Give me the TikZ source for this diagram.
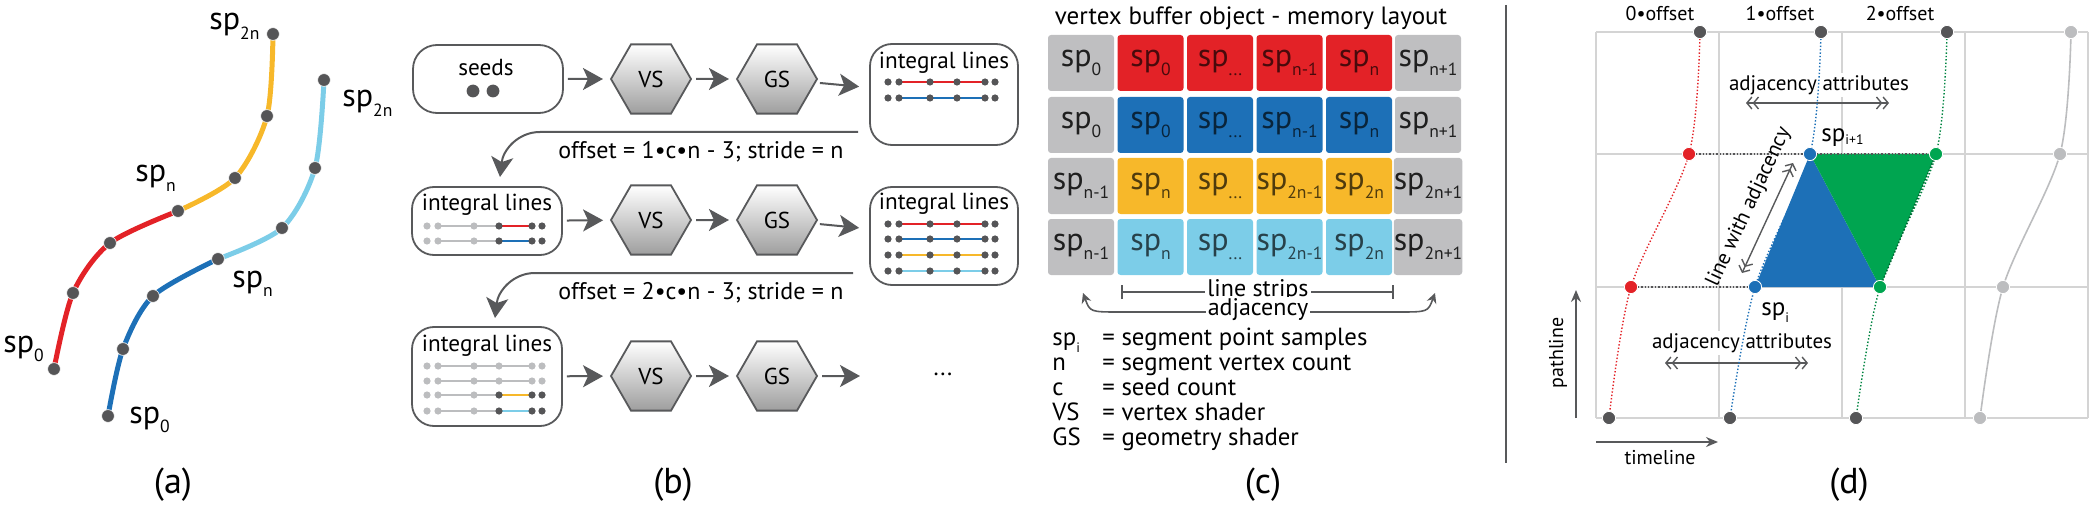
\documentclass[tikz,border=0pt]{standalone}
\usepackage{fontspec}
\setmainfont{PT Sans}
\usepackage{graphicx}
\usetikzlibrary{arrows.meta,shapes.geometric,calc}

\definecolor{spred}{HTML}{E32227}
\definecolor{spyellow}{HTML}{F7B82A}
\definecolor{spblue}{HTML}{1D70B7}
\definecolor{splight}{HTML}{7CCDE8}
\definecolor{spgreen}{HTML}{00A550}
\definecolor{dotgray}{HTML}{555557}
\definecolor{cellgray}{HTML}{BFBFC1}
\definecolor{ltgray}{HTML}{BCBDBF}
\definecolor{gridgray}{HTML}{D4D4D4}
\definecolor{inkgray}{HTML}{58595B}

\newcommand{\spsub}[1]{sp\raisebox{-0.3em}{\scalebox{0.55}{#1}}}
\newcommand{\fs}[1]{\fontsize{#1}{#1}\selectfont}
\newcommand{\tdots}{...}

\begin{document}
\begin{tikzpicture}[x=0.5pt, y=-0.5pt,
    adot/.style={circle, fill=dotgray, draw=white, line width=0.3pt, minimum size=6.4pt, inner sep=0pt},
    pdot/.style={circle, fill=dotgray, draw=white, line width=0.4pt, minimum size=6.6pt, inner sep=0pt},
    sdot/.style={circle, fill=dotgray, minimum size=6.4pt, inner sep=0pt},
    lbl/.style={inner sep=0pt, font=\fs{16}},
    captxt/.style={inner sep=0pt, font=\fs{18}},
    aline/.style={line width=2.5pt},
    pill/.style={draw=inkgray, line width=0.9pt, minimum width=75pt, rounded corners=12pt},
    ilbox/.style={draw=inkgray, line width=0.9pt, minimum width=74pt, rounded corners=11pt},
    iltext/.style={inner sep=0pt, font=\fs{11.6}},
    hexa/.style={regular polygon, regular polygon sides=6, minimum size=40pt, inner sep=0pt,
      draw=inkgray, line width=0.9pt, top color=white, bottom color=black!38, font=\fs{11.5}},
    flow/.style={draw=inkgray, line width=1pt, -{Stealth[length=10pt, width=11pt, inset=2.5pt]}},
    seg/.style={line width=0.8pt},
    olbl/.style={inner sep=0pt, font=\fs{12}},
    cell/.style={minimum width=33pt, minimum height=28pt, rounded corners=1.5pt, inner sep=0pt, font=\fs{16}},
    grayc/.style={cell, fill=cellgray, text=black!88},
    ink/.style={draw=inkgray, line width=0.8pt},
    strip/.style={inner sep=1pt, font=\fs{12}, fill=white},
    legtxt/.style={inner sep=0pt, font=\fs{12.4}, anchor=base west},
    gridline/.style={draw=gridgray, line width=1pt},
    track/.style={densely dotted, line width=0.7pt},
    dlbl/.style={inner sep=0pt, font=\fs{10.5}},
    dual/.style={draw=inkgray, line width=0.7pt,
      {Straight Barb[length=2.5pt,width=6pt]Straight Barb[length=2.5pt,width=6pt]}-{Straight Barb[length=2.5pt,width=6pt]Straight Barb[length=2.5pt,width=6pt]}},
    axarrow/.style={draw=inkgray, line width=0.9pt, -{Stealth[length=6pt,width=5pt]}}
  ]
  \useasboundingbox (0,0) rectangle (2089,508);

  % (a) two integral lines
  \coordinate (r0) at (54,369);  \coordinate (r1) at (73,293);  \coordinate (r2) at (110,243);
  \coordinate (rn) at (178,211); \coordinate (y1) at (235,178); \coordinate (y2) at (267,116);
  \coordinate (y3) at (273,34);
  \coordinate (b0) at (108,416); \coordinate (b1) at (123,349); \coordinate (b2) at (153,296);
  \coordinate (bn) at (218,259); \coordinate (l1) at (282,228); \coordinate (l2) at (315,168);
  \coordinate (l3) at (324,80);
  \draw[aline, spred] plot[smooth] coordinates {(r0) (r1) (r2) (rn)};
  \draw[aline, spyellow] plot[smooth] coordinates {(rn) (y1) (y2) (y3)};
  \draw[aline, spblue] plot[smooth] coordinates {(b0) (b1) (b2) (bn)};
  \draw[aline, splight] plot[smooth] coordinates {(bn) (l1) (l2) (l3)};
  \foreach \p in {r0,r1,r2,rn,y1,y2,y3,b0,b1,b2,bn,l1,l2,l3}
    \node[adot] (d\p) at (\p) {};
  \node[lbl, anchor=base west] (ra) at (3,352) {\spsub{0}};
  \node[lbl, anchor=base west] (rb) at (135,182) {\spsub{n}};
  \node[lbl, anchor=base west] (rc) at (209,30) {\spsub{2n}};
  \node[lbl, anchor=base west] (ba) at (129,423) {\spsub{0}};
  \node[lbl, anchor=base west] (bb) at (232,287) {\spsub{n}};
  \node[lbl, anchor=base west] (bc) at (342,107) {\spsub{2n}};
  \node[captxt] (capa) at (173,485) {(a)};

  % (b) render passes
  \node[pill, minimum height=34pt] (seeds) at (488,79) {};
  \node[iltext] (seedst) at (486,68) {seeds};
  \node[sdot] (sd1) at (473,91) {};
  \node[sdot] (sd2) at (493,91) {};
  \node[ilbox, minimum height=50.5pt] (il1) at (944,94.5) {};
  \node[ilbox, minimum height=34pt, minimum width=75pt] (il2) at (487,221) {};
  \node[ilbox, minimum height=49pt] (il3) at (944,236) {};
  \node[ilbox, minimum height=49.5pt, minimum width=75pt] (il4) at (487,376.5) {};
  \node[iltext] (il1t) at (944,63) {integral lines};
  \node[iltext] (il2t) at (487,205) {integral lines};
  \node[iltext] (il3t) at (944,204) {integral lines};
  \node[iltext] (il4t) at (487,346) {integral lines};
  \foreach \yy [count=\i] in {79,220,376} {
    \node[hexa] (vs\i) at (651,\yy) {VS};
    \node[hexa] (gs\i) at (777,\yy) {GS};
  }
  \node[olbl] (etc) at (943,374) {...};
  \coordinate (etcin) at (860,376);
  \draw[flow, shorten <=2pt, shorten >=3.5pt] (seeds) -- (vs1);
  \draw[flow, shorten <=2pt, shorten >=3.5pt] (vs1) -- (gs1);
  \draw[flow, shorten <=2pt, shorten >=5pt] (gs1) -- (il1);
  \draw[flow, shorten <=2pt, shorten >=3.5pt] (il2) -- (vs2);
  \draw[flow, shorten <=2pt, shorten >=3.5pt] (vs2) -- (gs2);
  \draw[flow, shorten <=2pt, shorten >=5pt] (gs2) -- (il3);
  \draw[flow, shorten <=2pt, shorten >=3.5pt] (il4) -- (vs3);
  \draw[flow, shorten <=2pt, shorten >=3.5pt] (vs3) -- (gs3);
  \draw[flow, shorten <=2pt] (gs3) -- (etcin);
  \coordinate (ret1a) at (858,132); \coordinate (ret1b) at (500,177);
  \coordinate (ret2a) at (853,273); \coordinate (ret2b) at (495,318);
  \draw[flow] (ret1a) -- (540,132) .. controls (518,132) and (503,150) .. (ret1b);
  \draw[flow] (ret2a) -- (535,273) .. controls (513,273) and (498,291) .. (ret2b);
  \node[olbl] (off1) at (701,152) {offset = 1•c•n - 3; stride = n};
  \node[olbl] (off2) at (701,293) {offset = 2•c•n - 3; stride = n};
  % lines inside the boxes
  \foreach \yy/\cc in {82/spred, 98/spblue, 224/spred, 239/spblue, 255/spyellow, 271/splight} {
    \draw[seg, \cc] (899,\yy) -- (985,\yy);
    \foreach \xx in {888,899,930,957,985,995}
      \fill[dotgray] (\xx,\yy) circle[radius=1.8pt];
  }
  \foreach \yy/\cc in {226/spred, 241/spblue, 395/spyellow, 411/splight} {
    \draw[seg, ltgray] (438,\yy) -- (499,\yy);
    \draw[seg, \cc] (499,\yy) -- (532,\yy);
    \foreach \xx in {427,438,474}
      \fill[ltgray] (\xx,\yy) circle[radius=1.8pt];
    \foreach \xx in {499,532,542}
      \fill[dotgray] (\xx,\yy) circle[radius=1.8pt];
  }
  \foreach \yy in {366,381} {
    \draw[seg, ltgray] (438,\yy) -- (532,\yy);
    \foreach \xx in {427,438,474,499,532,542}
      \fill[ltgray] (\xx,\yy) circle[radius=1.8pt];
  }
  \node[captxt] (capb) at (673,485) {(b)};

  % (c) memory layout
  \node[olbl, font=\fs{12.5}] (vbo) at (1251,18) {vertex buffer object - memory layout};
  \foreach \yy/\cc/\qa/\qb/\qc/\qd/\qe/\qf [count=\r] in {
      63/spred/0/0/\tdots/n-1/n/n+1,
      125/spblue/0/0/\tdots/n-1/n/n+1,
      186/spyellow/n-1/n/\tdots/2n-1/2n/2n+1,
      247/splight/n-1/n/\tdots/2n-1/2n/2n+1} {
    \node[grayc] (c\r-0) at (1081,\yy) {\spsub{\qa}};
    \foreach \xx/\ss [count=\k] in {1150.5/\qb, 1220/\qc, 1289.5/\qd, 1359/\qe}
      \node[cell, fill=\cc, text=black, text opacity=0.68] (c\r-\k) at (\xx,\yy) {\spsub{\ss}};
    \node[grayc] (c\r-5) at (1428,\yy) {\spsub{\qf}};
  }
  \coordinate (lsl) at (1121,292); \coordinate (lsr) at (1394,292);
  \coordinate (adjl) at (1083,293); \coordinate (adjr) at (1435,293);
  \draw[ink, {Bar[width=7pt]}-{Bar[width=7pt]}] (lsl) -- (lsr);
  \draw[ink, {Stealth[length=5pt,width=5pt]}-{Stealth[length=5pt,width=5pt]}]
    (adjl) .. controls (1090,312) .. (1120,312) -- (1398,312) .. controls (1428,312) .. (adjr);
  \node[strip] (lst) at (1258,290) {line strips};
  \node[strip] (adjt) at (1258,310) {adjacency};
  \foreach \kk [count=\i] in {{\spsub{i}}, n, c, VS, GS}
    \node[legtxt] (key\i) at (1052,320+25*\i) {\kk};
  \foreach \vv [count=\i] in {segment point samples, segment vertex count, seed count,
      vertex shader, geometry shader}
    \node[legtxt] (val\i) at (1102,320+25*\i) {= \vv};
  \node[captxt] (capc) at (1263,485) {(c)};

  % (d) adjacency on the grid
  \draw[draw=inkgray, line width=1pt] (1506,5) -- (1506,463);
  \foreach \xx in {1596,1719,1842,1965,2088}
    \draw[gridline] (\xx,32) -- (\xx,418);
  \foreach \yy in {32,154,287,418}
    \draw[gridline] (1596,\yy) -- (2088,\yy);
  \node[dlbl, font=\fs{10}] (o0) at (1660,14) {0•offset};
  \node[dlbl, font=\fs{10}] (o1) at (1780,14) {1•offset};
  \node[dlbl, font=\fs{10}] (o2) at (1900,14) {2•offset};
  \node[dlbl, fill=white, inner sep=1pt] (att1) at (1819,85) {adjacency attributes};
  \node[dlbl, fill=white, inner sep=1pt] (att2) at (1742,343) {adjacency attributes};
  \coordinate (a1l) at (1746,103); \coordinate (a1r) at (1889,103);
  \coordinate (a2l) at (1665,363); \coordinate (a2r) at (1808,363);
  \draw[dual] (a1l) -- (a1r);
  \draw[dual] (a2l) -- (a2r);
  \foreach \k/\ya/\yb/\yc/\yd in {0/1700/1689/1631/1609, 1/1821/1810/1755/1730,
      2/1947/1936/1880/1856, 3/2071/2060/2003/1980} {
    \coordinate (p\k0) at (\ya,32);  \coordinate (p\k1) at (\yb,154);
    \coordinate (p\k2) at (\yc,287); \coordinate (p\k3) at (\yd,418);
  }
  \draw[track, spred] plot[smooth] coordinates {(p00) (p01) (p02) (p03)};
  \draw[track, spblue] plot[smooth] coordinates {(p10) (p11) (p12) (p13)};
  \draw[track, spgreen!80!black] plot[smooth] coordinates {(p20) (p21) (p22) (p23)};
  \draw[ltgray, line width=0.8pt] plot[smooth] coordinates {(p30) (p31) (p32) (p33)};
  \draw[track, dotgray] (p01) -- (p11);
  \draw[track, dotgray] (p02) -- (p12);
  \fill[spblue] (p11) -- (p12) -- (p22) -- cycle;
  \fill[spgreen] (p11) -- (p21) -- (p22) -- cycle;
  \draw[track, dotgray] (p11) -- (p21);
  \draw[track, spgreen!60!black] (p21) -- (p22);
  \coordinate (lwa) at (1742,273); \coordinate (lwb) at (1793,163);
  \draw[dual] (lwa) -- (lwb);
  \node[dlbl, rotate=65] (lwt) at (1749,207) {line with adjacency};
  \foreach \k in {0,1,2} {
    \node[pdot] (t\k) at (p\k0) {};
    \node[pdot] (s\k) at (p\k3) {};
  }
  \foreach \p/\cc in {p01/spred, p02/spred, p11/spblue, p12/spblue, p21/spgreen, p22/spgreen,
      p30/ltgray, p31/ltgray, p32/ltgray, p33/ltgray}
    \node[pdot, fill=\cc] (m\p) at (\p) {};
  \node[lbl, font=\fs{12.5}, anchor=base west] (spi1) at (1821,141) {sp\raisebox{-0.15em}{\scalebox{0.55}{i+1}}};
  \node[lbl, font=\fs{12.5}, anchor=base west] (spi) at (1761,315) {\spsub{i}};
  \coordinate (pla) at (1576,418); \coordinate (plb) at (1576,290);
  \coordinate (tla) at (1596,442); \coordinate (tlb) at (1718,442);
  \draw[axarrow] (pla) -- (plb);
  \draw[axarrow] (tla) -- (tlb);
  \node[dlbl, font=\fs{10}, rotate=90] (plt) at (1558,353) {pathline};
  \node[dlbl, font=\fs{10}] (tlt) at (1660,458) {timeline};
  \node[captxt] (capd) at (1849,485) {(d)};
\end{tikzpicture}
\end{document}
